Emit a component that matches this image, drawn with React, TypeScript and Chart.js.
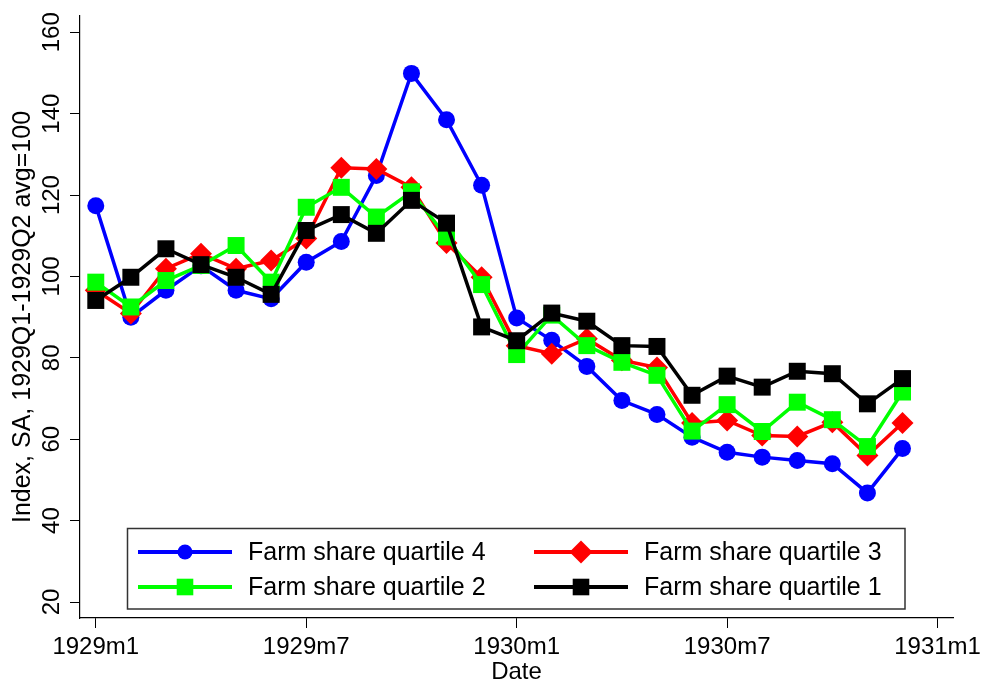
import React, { useEffect, useRef } from 'react';
import { Chart, registerables } from 'chart.js';

Chart.register(...registerables);

// Months counted from 1929m1 (0) to 1930m12 (23)
const months = [0, 1, 2, 3, 4, 5, 6, 7, 8, 9, 10, 11, 12, 13, 14, 15, 16, 17, 18, 19, 20, 21, 22, 23];

const xTickValues = [0, 6, 12, 18, 24];
const xTickLabels = ['1929m1', '1929m7', '1930m1', '1930m7', '1931m1'];
const yTickValues = [20, 40, 60, 80, 100, 120, 140, 160];

const seriesNames = [
  'Farm share quartile 4',
  'Farm share quartile 3',
  'Farm share quartile 2',
  'Farm share quartile 1',
];

const quartile4 = [117.4, 90.0, 96.6, 102.6, 96.6, 94.5, 103.5, 108.6, 124.8, 149.9, 138.5, 122.4,
  89.8, 84.3, 77.9, 69.5, 66.1, 60.5, 56.8, 55.6, 54.8, 54.0, 46.8, 57.7];
const quartile3 = [96.6, 90.9, 101.9, 105.6, 101.9, 103.9, 109.3, 126.7, 126.4, 121.9, 108.2, 99.8,
  83.0, 81.0, 84.7, 79.4, 77.6, 64.0, 64.6, 60.9, 60.7, 64.2, 56.0, 64.0];
const quartile2 = [98.6, 92.5, 99.0, 102.7, 107.6, 98.6, 117.0, 121.9, 114.6, 120.8, 109.7, 98.0,
  80.8, 90.5, 83.0, 78.9, 75.7, 62.0, 68.5, 61.9, 69.1, 64.8, 58.2, 71.6];
const quartile1 = [94.1, 99.8, 106.8, 102.9, 99.8, 95.6, 111.3, 115.2, 110.6, 118.7, 113.1, 87.6,
  84.2, 91.0, 89.0, 83.0, 82.8, 70.8, 75.5, 72.8, 76.7, 76.1, 68.7, 74.9];

const seriesValues = [quartile4, quartile3, quartile2, quartile1];
const seriesColors = ['#0000FF', '#FF0000', '#00FF00', '#000000'];
const seriesMarkers = ['circle', 'rectRot', 'rect', 'rect'];
const markerRadius = [8.5, 11, 12, 12];

const FONT = '"Liberation Sans", Arial, Helvetica, sans-serif';

// Draws the rotated y tick labels at the positions given by the y scale
const yLabelPlugin = {
  id: 'yRotLabels',
  afterDraw(chart: any) {
    const ctx = chart.ctx as CanvasRenderingContext2D;
    const y = chart.scales.y;
    ctx.save();
    ctx.font = `24px ${FONT}`;
    ctx.fillStyle = '#000';
    ctx.textAlign = 'center';
    ctx.textBaseline = 'alphabetic';
    for (const v of yTickValues) {
      const py = y.getPixelForValue(v);
      ctx.save();
      ctx.translate(59, py);
      ctx.rotate(-Math.PI / 2);
      ctx.fillText(String(v), 0, 0);
      ctx.restore();
    }
    ctx.restore();
  },
};

const legendPlugin = {
  id: 'boxLegend',
  afterDraw(chart: any) {
    const ctx = chart.ctx as CanvasRenderingContext2D;
    ctx.save();
    const bx = 127.5, by = 528.5, bw = 777.5, bh = 80.5;
    ctx.fillStyle = '#ffffff';
    ctx.fillRect(bx, by, bw, bh);
    ctx.strokeStyle = '#333333';
    ctx.lineWidth = 1.5;
    ctx.strokeRect(bx, by, bw, bh);
    const colX = [138, 534];
    const rowY = [552, 587];
    const lineLen = 94;
    const textOffset = 110;
    ctx.font = `25px ${FONT}`;
    ctx.textBaseline = 'middle';
    ctx.textAlign = 'left';
    for (let i = 0; i < seriesNames.length; i++) {
      const col = i % 2;
      const row = Math.floor(i / 2);
      const x0 = colX[col];
      const y0 = rowY[row];
      const color = seriesColors[i];
      ctx.strokeStyle = color;
      ctx.lineWidth = 4;
      ctx.beginPath();
      ctx.moveTo(x0, y0);
      ctx.lineTo(x0 + lineLen, y0);
      ctx.stroke();
      const cx = x0 + lineLen / 2;
      ctx.fillStyle = color;
      ctx.beginPath();
      if (seriesMarkers[i] === 'circle') {
        ctx.arc(cx, y0, 7.5, 0, Math.PI * 2);
      } else if (seriesMarkers[i] === 'rectRot') {
        ctx.moveTo(cx - 11.5, y0);
        ctx.lineTo(cx, y0 - 11.5);
        ctx.lineTo(cx + 11.5, y0);
        ctx.lineTo(cx, y0 + 11.5);
        ctx.closePath();
      } else {
        ctx.rect(cx - 8.3, y0 - 8.3, 16.6, 16.6);
      }
      ctx.fill();
      ctx.fillStyle = '#000000';
      ctx.fillText(seriesNames[i], x0 + textOffset, y0 + 1);
    }
    ctx.restore();
  },
};

export default function App() {
  const canvasRef = useRef<HTMLCanvasElement | null>(null);

  useEffect(() => {
    document.body.style.margin = '0';
    const canvas = canvasRef.current;
    if (!canvas) return;

    const datasets = seriesValues.map((vals, i) => ({
      label: seriesNames[i],
      data: months.map((m, j) => ({ x: m, y: vals[j] })),
      borderColor: seriesColors[i],
      backgroundColor: seriesColors[i],
      pointBackgroundColor: seriesColors[i],
      pointBorderColor: seriesColors[i],
      pointBorderWidth: 0,
      pointStyle: seriesMarkers[i],
      pointRadius: markerRadius[i],
      pointHoverRadius: markerRadius[i],
      borderWidth: 3.5,
      tension: 0,
      fill: false,
      order: seriesNames.length - i,
    }));

    const chart = new Chart(canvas, {
      type: 'line',
      data: { datasets },
      plugins: [yLabelPlugin, legendPlugin],
      options: {
        animation: false,
        responsive: true,
        maintainAspectRatio: false,
        layout: { padding: { top: 16, right: 29, left: 0, bottom: 0 } },
        plugins: {
          legend: { display: false },
          tooltip: { enabled: false },
        },
        scales: {
          x: {
            type: 'linear',
            min: -0.45,
            max: 24.44,
            afterBuildTicks: (scale: any) => {
              scale.ticks = xTickValues.map((v) => ({ value: v }));
            },
            afterFit: (scale: any) => {
              scale.height = 64;
              scale.paddingLeft = 0;
              scale.paddingRight = 0;
            },
            ticks: {
              autoSkip: false,
              maxRotation: 0,
              minRotation: 0,
              padding: 5,
              color: '#000',
              font: { family: FONT, size: 24 },
              callback: (v: any) => {
                const idx = xTickValues.indexOf(Number(v));
                return idx >= 0 ? xTickLabels[idx] : '';
              },
            },
            grid: { drawOnChartArea: false, drawTicks: true, tickLength: 10, color: '#000', lineWidth: 1 },
            border: { display: true, color: '#000', width: 1.2 },
            title: {
              display: true,
              text: 'Date',
              color: '#000',
              font: { family: FONT, size: 24 },
              padding: { top: 0, bottom: -5 },
            },
          },
          y: {
            type: 'linear',
            min: 16.07,
            max: 164.0,
            afterBuildTicks: (scale: any) => {
              scale.ticks = yTickValues.map((v) => ({ value: v }));
            },
            afterFit: (scale: any) => {
              scale.width = 80;
              scale.paddingTop = 0;
              scale.paddingBottom = 0;
            },
            ticks: {
              display: false,
            },
            grid: { drawOnChartArea: false, drawTicks: true, tickLength: 10, color: '#000', lineWidth: 1 },
            border: { display: true, color: '#000', width: 1.2 },
            title: {
              display: true,
              text: 'Index, SA, 1929Q1-1929Q2 avg=100',
              color: '#000',
              font: { family: FONT, size: 25 },
              padding: { top: 8, bottom: 0 },
            },
          },
        },
      },
    } as any);

    return () => {
      chart.destroy();
    };
  }, []);

  return (
    <div style={{ position: 'relative', width: '982px', height: '682px' }}>
      <canvas ref={canvasRef} />
    </div>
  );
}
